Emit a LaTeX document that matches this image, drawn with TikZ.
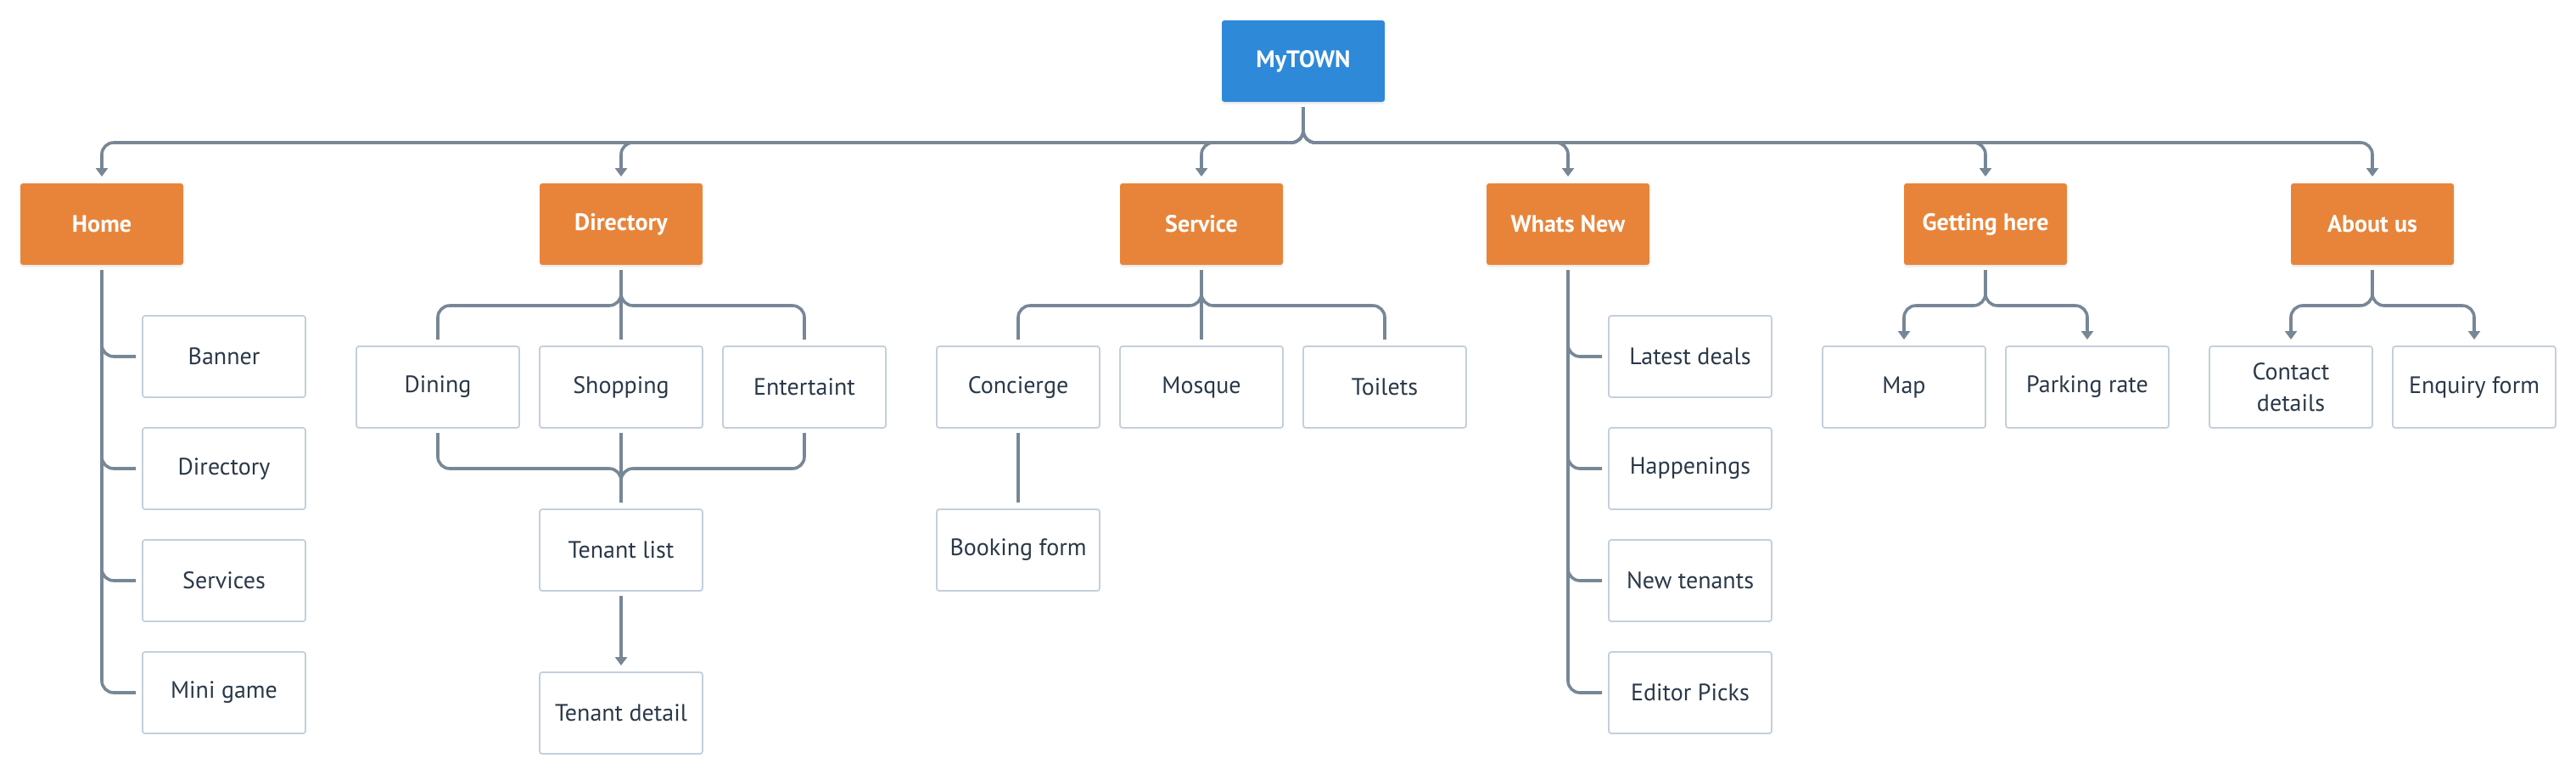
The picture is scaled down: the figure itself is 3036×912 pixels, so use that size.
\documentclass[tikz,border=0pt]{standalone}
\usepackage{fontspec}
\setmainfont{PT Sans}
\usetikzlibrary{positioning,arrows.meta,shadows}

\definecolor{townblue}{HTML}{2E89D9}
\definecolor{secorange}{HTML}{E8843A}
\definecolor{linkgray}{HTML}{778797}
\definecolor{boxline}{HTML}{C3CFDB}
\definecolor{inktext}{HTML}{2A3848}

\begin{document}
\begin{tikzpicture}[x=0.5pt, y=-0.5pt, >={Triangle[width=7pt,length=5pt]}]
\tikzstyle{root}=[rectangle,fill=townblue,text=white,font=\bfseries\fontsize{14}{17}\selectfont,minimum width=96pt,minimum height=48pt,outer sep=0pt,rounded corners=1.5pt,drop shadow={opacity=0.12,shadow xshift=0pt,shadow yshift=-1.5pt}]
\tikzstyle{section}=[root,fill=secorange]
\tikzstyle{page}=[rectangle,draw=boxline,line width=0.9pt,fill=white,text=inktext,font=\fontsize{14}{18.5}\selectfont,align=center,minimum width=96pt,minimum height=48pt,inner sep=0pt,outer sep=0pt,rounded corners=1.5pt]
\tikzstyle{link}=[draw=linkgray,line width=1.8pt,rounded corners=7pt,shorten <=3pt,shorten >=4pt]
\useasboundingbox (0,0) rectangle (3036,912);

% main sections
\node[root]    (town)     at (1536,72)  {MyTOWN};
\node[section] (home)     at (120,264)  {Home};
\node[section] (dir)      at (732,264)  {Directory};
\node[section] (service)  at (1416,264) {Service};
\node[section] (whatsnew) at (1848,264) {Whats New};
\node[section] (getting)  at (2340,264) {Getting here};
\node[section] (about)    at (2796,264) {About us};

% home
\node[page] (banner)   [below right=30pt and 24pt of home.south] {Banner};
\node[page] (hdir)     [below=18pt of banner] {Directory};
\node[page] (hserv)    [below=18pt of hdir]   {Services};
\node[page] (minigame) [below=18pt of hserv]  {Mini game};

% directory
\node[page] (shopping)     [below=48pt of dir]        {Shopping};
\node[page] (dining)       [left=12pt of shopping]    {Dining};
\node[page] (entertain)    [right=12pt of shopping]   {Entertaint};
\node[page] (tenantlist)   [below=48pt of shopping]   {Tenant list};
\node[page] (tenantdetail) [below=48pt of tenantlist] {Tenant detail};

% service
\node[page] (mosque)    [below=48pt of service]   {Mosque};
\node[page] (concierge) [left=12pt of mosque]     {Concierge};
\node[page] (toilets)   [right=12pt of mosque]    {Toilets};
\node[page] (booking)   [below=48pt of concierge] {Booking form};

% whats new
\node[page] (deals)      [below right=30pt and 24pt of whatsnew.south] {Latest deals};
\node[page] (happenings) [below=18pt of deals]      {Happenings};
\node[page] (newtenants) [below=18pt of happenings] {New tenants};
\node[page] (editor)     [below=18pt of newtenants] {Editor Picks};

% getting here, about us
\node[page] (map)     [below left=48pt and 0pt of getting.south] {Map};
\node[page] (parking) [right=12pt of map]                        {Parking rate};
\node[page] (contact) [below left=48pt and 0pt of about.south]   {Contact\\details};
\node[page] (enquiry) [right=12pt of contact]                    {Enquiry form};

% connectors
\foreach \s in {home,dir,service,whatsnew,getting,about}
  \draw[link,->] (town.south) -- ++(0,-24pt) -| (\s.north);
\foreach \p in {banner,hdir,hserv,minigame}
  \draw[link] (home.south) |- (\p.west);
\foreach \p in {deals,happenings,newtenants,editor}
  \draw[link] (whatsnew.south) |- (\p.west);
\foreach \p in {dining,entertain} {
  \draw[link] (dir.south) -- ++(0,-24pt) -| (\p.north);
  \draw[link] (\p.south) -- ++(0,-24pt) -| (tenantlist.north);
}
\draw[link] (dir) -- (shopping);
\draw[link] (shopping) -- (tenantlist);
\draw[link,->] (tenantlist) -- (tenantdetail);
\foreach \p in {concierge,toilets}
  \draw[link] (service.south) -- ++(0,-24pt) -| (\p.north);
\draw[link] (service) -- (mosque);
\draw[link] (concierge) -- (booking);
\foreach \p in {map,parking}
  \draw[link,->] (getting.south) -- ++(0,-24pt) -| (\p.north);
\foreach \p in {contact,enquiry}
  \draw[link,->] (about.south) -- ++(0,-24pt) -| (\p.north);
\end{tikzpicture}
\end{document}
